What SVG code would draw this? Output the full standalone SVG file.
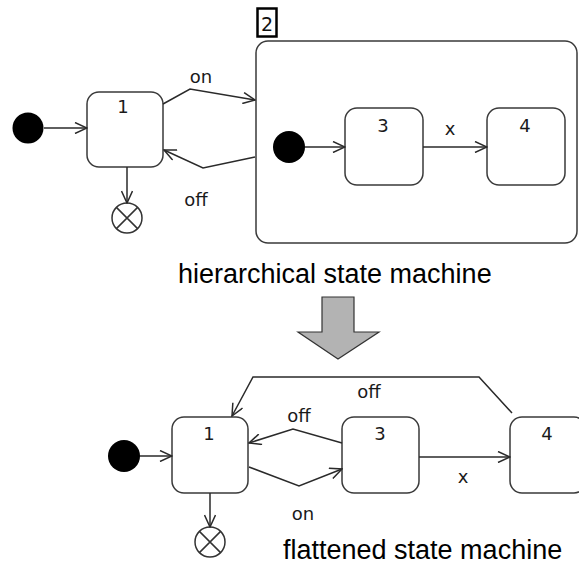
<svg xmlns="http://www.w3.org/2000/svg" width="579" height="564" viewBox="0 0 579 564">
<style>
.st{fill:#fff;stroke:#3a3a3a;stroke-width:1.5}
.init{fill:#000}
.fin{fill:#fff;stroke:#333;stroke-width:1.5}
.lbl{font-family:"DejaVu Sans",sans-serif;font-size:18px;fill:#1a1a1a;text-anchor:middle}
.cap{font-family:"Liberation Sans",Arial,sans-serif;font-size:27px;fill:#000}
.c{fill:none;stroke:#2a2a2a;stroke-width:1.5;marker-end:url(#a)}
</style>
<defs>
<marker id="a" viewBox="0 0 14 12" refX="13" refY="6" markerWidth="14" markerHeight="12" orient="auto" markerUnits="userSpaceOnUse">
<path d="M1,0.5 L13,6 L1,11.5" fill="none" stroke="#2a2a2a" stroke-width="1.5"/>
</marker>
</defs>

<!-- hierarchical machine -->
<g id="top-init"><circle class="init" cx="28" cy="128" r="15.5"/></g>
<g id="top-s1"><rect class="st" x="87" y="92" width="76" height="75" rx="12"/><text class="lbl" x="123" y="113">1</text></g>
<g id="top-final"><circle class="fin" cx="127" cy="218" r="15"/><path d="M116.4,207.4 L137.6,228.6 M137.6,207.4 L116.4,228.6" stroke="#333" stroke-width="1.5"/></g>
<g id="top-s2">
<rect class="st" x="256" y="41" width="321" height="202" rx="12"/>
<rect x="257.5" y="8.5" width="19" height="28" fill="#fff" stroke="#000" stroke-width="2.5"/>
<text x="267" y="31" font-family="DejaVu Sans,sans-serif" font-size="19" text-anchor="middle" fill="#111">2</text>
</g>
<g id="top-init2"><circle class="init" cx="289" cy="147" r="16"/></g>
<g id="top-s3"><rect class="st" x="345" y="108" width="78" height="77" rx="12"/><text class="lbl" x="383" y="132">3</text></g>
<g id="top-s4"><rect class="st" x="487" y="108" width="78" height="77" rx="12"/><text class="lbl" x="525" y="132">4</text></g>

<g id="top-connectors">
<path class="c" d="M44,128 L87,128"/>
<path class="c" d="M127,167 L127,203"/>
<path class="c" d="M163,104 L190,89 L255,100"/>
<path class="c" d="M255,157 L203,168 L164,150"/>
<path class="c" d="M305,147 L345,147"/>
<path class="c" d="M423,147 L487,147"/>
<text class="lbl" x="201" y="83">on</text>
<text class="lbl" x="196" y="206">off</text>
<text class="lbl" x="450" y="135">x</text>
</g>

<text class="cap" x="178" y="283">hierarchical state machine</text>

<g id="transform-arrow"><polygon points="322,297 354,297 354,332 379,332 338,359 298,332 322,332" fill="#b3b3b3" stroke="#333" stroke-width="1.2"/></g>

<!-- flattened machine -->
<g id="bot-init"><circle class="init" cx="124" cy="456" r="16"/></g>
<g id="bot-s1"><rect class="st" x="172" y="417" width="76" height="76" rx="12"/><text class="lbl" x="209" y="440">1</text></g>
<g id="bot-final"><circle class="fin" cx="210" cy="542" r="15"/><path d="M199.4,531.4 L220.6,552.6 M220.6,531.4 L199.4,552.6" stroke="#333" stroke-width="1.5"/></g>
<g id="bot-s3"><rect class="st" x="342" y="417" width="77" height="76" rx="12"/><text class="lbl" x="380" y="440">3</text></g>
<g id="bot-s4"><rect class="st" x="510" y="417" width="76" height="76" rx="12"/><text class="lbl" x="547" y="440">4</text></g>

<g id="bot-connectors">
<path class="c" d="M140,456 L172,456"/>
<path class="c" d="M210,493 L210,527"/>
<path class="c" d="M342,443 L293,429 L249,443"/>
<path class="c" d="M249,467 L299,486 L342,469"/>
<path class="c" d="M419,457 L510,457"/>
<path class="c" d="M512,413 L479,377 L253,377 L232,416"/>
<text class="lbl" x="299" y="422">off</text>
<text class="lbl" x="303" y="520">on</text>
<text class="lbl" x="369" y="398">off</text>
<text class="lbl" x="463" y="483">x</text>
</g>

<text class="cap" x="283" y="559">flattened state machine</text>
</svg>
